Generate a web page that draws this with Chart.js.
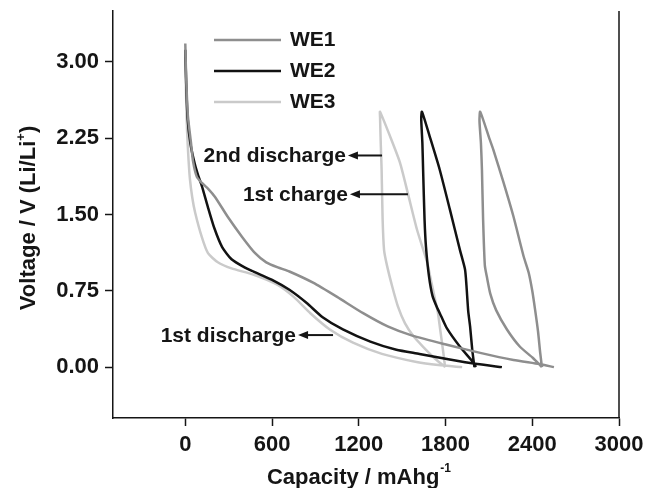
<!DOCTYPE html>
<html>
<head>
<meta charset="utf-8">
<script src="https://cdn.jsdelivr.net/npm/chart.js@4/dist/chart.umd.min.js"></script>
<style>
  html, body { margin: 0; padding: 0; background: #fff; }
  #wrap { width: 646px; height: 488px; }
</style>
</head>
<body>
<div id="wrap"><canvas id="c" width="646" height="488"></canvas></div>
<script>
// Axis ticks
const xTicks = [0, 600, 1200, 1800, 2400, 3000];
const yTicks = [0, 0.75, 1.5, 2.25, 3.0];

// Electrode names and line colours
const seriesNames = ['WE1', 'WE2', 'WE3'];
const seriesColors = ['#8e8e8e', '#121212', '#cacaca'];

// WE1: capacity (mAh/g), voltage (V)
const we1Discharge1 = [[0,3.18],[6,2.85],[18,2.47],[39,2.21],[54,2.02],[80,1.87],[115,1.81],[160,1.75],[207,1.67],[297,1.47],[393,1.28],[483,1.12],[560,1.03],[640,0.98],[720,0.94],[884,0.83],[1050,0.69],[1230,0.53],[1400,0.40],[1570,0.31],[1810,0.22],[2040,0.14],[2270,0.07],[2450,0.03],[2550,0.0]];
const we1Charge1 = [[2467,0.0],[2455,0.14],[2440,0.35],[2420,0.56],[2400,0.75],[2375,0.93],[2340,1.09],[2270,1.48],[2200,1.82],[2130,2.14],[2105,2.24],[2040,2.51]];
const we1Discharge2 = [[2035,2.42],[2045,2.2],[2052,1.94],[2060,1.45],[2072,1.0],[2087,0.88],[2110,0.72],[2150,0.56],[2225,0.37],[2315,0.2],[2405,0.09],[2467,0.0]];

// WE2
const we2Discharge1 = [[0,3.12],[6,2.8],[16,2.45],[35,2.2],[65,2.0],[90,1.88],[115,1.78],[155,1.58],[200,1.37],[255,1.18],[320,1.06],[410,0.98],[470,0.94],[610,0.85],[720,0.76],[840,0.63],[950,0.49],[1090,0.37],[1280,0.25],[1460,0.17],[1620,0.13],[1810,0.08],[2020,0.03],[2190,0.0]];
const we2Charge1 = [[2000,0.0],[1985,0.17],[1970,0.4],[1957,0.55],[1945,0.8],[1935,0.96],[1900,1.15],[1830,1.55],[1760,1.94],[1690,2.27],[1637,2.51]];
const we2Discharge2 = [[1632,2.44],[1640,2.2],[1645,1.94],[1655,1.45],[1665,1.18],[1685,0.9],[1710,0.7],[1740,0.59],[1770,0.5],[1810,0.38],[1900,0.2],[1990,0.05],[2010,0.0]];

// WE3
const we3Discharge1 = [[0,3.05],[5,2.7],[12,2.33],[22,2.05],[32,1.85],[48,1.67],[68,1.52],[114,1.28],[157,1.12],[225,1.03],[320,0.97],[470,0.91],[636,0.81],[750,0.69],[865,0.53],[1000,0.37],[1160,0.24],[1360,0.13],[1600,0.05],[1750,0.02],[1915,0.0]];
const we3Charge1 = [[1797,0.0],[1785,0.14],[1765,0.35],[1748,0.53],[1730,0.65],[1700,0.85],[1673,1.03],[1603,1.35],[1541,1.70],[1485,2.01],[1416,2.27],[1347,2.51]];
const we3Discharge2 = [[1347,2.46],[1352,2.2],[1358,1.94],[1365,1.45],[1375,1.15],[1395,1.0],[1430,0.8],[1470,0.6],[1520,0.43],[1580,0.3],[1645,0.2],[1730,0.08],[1800,0.0]];

// Curve labels with arrows: [text, arrow tip x, arrow tail x, y]
const curveLabels = [
  ['2nd discharge', 1125, 1361, 2.08],
  ['1st charge', 1139, 1540, 1.70],
  ['1st discharge', 780, 1022, 0.315]
];

const FONT = '"Liberation Sans", Arial, Helvetica, sans-serif';
const INK = '#151515';

const toPts = arr => arr.map(p => ({ x: p[0], y: p[1] }));
// first discharge is a separate stroke; charge runs straight into the 2nd discharge
function curve(d1, c1, d2) {
  const last = d1[d1.length - 1];
  return [...toPts(d1), { x: last[0], y: null }, ...toPts(c1), ...toPts(d2)];
}

const curves = [
  curve(we1Discharge1, we1Charge1, we1Discharge2),
  curve(we2Discharge1, we2Charge1, we2Discharge2),
  curve(we3Discharge1, we3Charge1, we3Discharge2)
];

const datasets = curves.map((data, i) => ({
  label: seriesNames[i],
  data,
  borderColor: seriesColors[i],
  borderWidth: 2.5,
  pointRadius: 0,
  tension: 0.2,
  fill: false,
  spanGaps: false,
  order: i
}));

const overlay = {
  id: 'overlay',
  afterDraw(chart) {
    const { ctx, chartArea: a, scales: { x, y } } = chart;
    ctx.save();

    // right edge of the frame
    ctx.strokeStyle = INK;
    ctx.lineWidth = 1.5;
    ctx.beginPath();
    ctx.moveTo(a.right, a.top);
    ctx.lineTo(a.right, a.bottom);
    ctx.stroke();

    // legend
    ctx.font = 'bold 21px ' + FONT;
    ctx.textBaseline = 'middle';
    ctx.textAlign = 'left';
    const legendY = [29, 60, 91];
    seriesNames.forEach((name, i) => {
      const ly = a.top + legendY[i];
      ctx.strokeStyle = seriesColors[i];
      ctx.lineWidth = 2.5;
      ctx.beginPath();
      ctx.moveTo(a.left + 101, ly);
      ctx.lineTo(a.left + 168, ly);
      ctx.stroke();
      ctx.fillStyle = INK;
      ctx.fillText(name, a.left + 177, ly);
    });

    // curve labels with arrows
    curveLabels.forEach(([text, tip, tail, v]) => {
      const px = x.getPixelForValue(tip);
      const pt = x.getPixelForValue(tail);
      const py = y.getPixelForValue(v);
      ctx.fillStyle = INK;
      ctx.textAlign = 'right';
      ctx.textBaseline = 'middle';
      ctx.fillText(text, px - 2, py + 1);
      ctx.strokeStyle = INK;
      ctx.lineWidth = 2;
      ctx.beginPath();
      ctx.moveTo(px + 6, py);
      ctx.lineTo(pt, py);
      ctx.stroke();
      ctx.beginPath();
      ctx.moveTo(px, py);
      ctx.lineTo(px + 10, py - 4);
      ctx.lineTo(px + 10, py + 4);
      ctx.closePath();
      ctx.fill();
    });

    // x axis title with superscript
    ctx.textAlign = 'left';
    ctx.textBaseline = 'alphabetic';
    const xMain = 'Capacity / mAhg';
    const xSup = '-1';
    ctx.font = 'bold 22px ' + FONT;
    const wMain = ctx.measureText(xMain).width;
    ctx.font = 'bold 12px ' + FONT;
    const wSup = ctx.measureText(xSup).width;
    const cx = (a.left + a.right) / 2 - 7;
    const sx = cx - (wMain + wSup + 1) / 2;
    ctx.font = 'bold 22px ' + FONT;
    ctx.fillText(xMain, sx, 484);
    ctx.font = 'bold 12px ' + FONT;
    ctx.fillText(xSup, sx + wMain + 1, 472);

    // y axis title with superscript, rotated
    ctx.translate(35, 218);
    ctx.rotate(-Math.PI / 2);
    const yParts = [['Voltage / V (Li/Li', 22, 0], ['+', 13, -10], [')', 22, 0]];
    let total = 0;
    yParts.forEach(p => { ctx.font = 'bold ' + p[1] + 'px ' + FONT; p.push(ctx.measureText(p[0]).width); total += p[3]; });
    let tx = -total / 2;
    yParts.forEach(p => {
      ctx.font = 'bold ' + p[1] + 'px ' + FONT;
      ctx.fillText(p[0], tx, p[2]);
      tx += p[3];
    });

    ctx.restore();
  }
};

const tickFont = { family: FONT, size: 22, weight: 'bold' };

new Chart(document.getElementById('c'), {
  type: 'line',
  data: { datasets },
  options: {
    responsive: false,
    animation: false,
    devicePixelRatio: 1,
    layout: { padding: { top: 11, right: 27, left: 0, bottom: 0 } },
    plugins: { legend: { display: false }, tooltip: { enabled: false } },
    scales: {
      x: {
        type: 'linear',
        min: -500,
        max: 3000,
        afterBuildTicks: s => { s.ticks = xTicks.map(v => ({ value: v })); },
        afterFit: s => { s.height = 70; s.paddingLeft = 0; s.paddingRight = 0; },
        ticks: { font: tickFont, color: INK, padding: 6, maxRotation: 0, callback: v => String(v) },
        grid: { drawOnChartArea: false, drawTicks: true, tickLength: 8, tickWidth: 1.5, tickColor: INK },
        border: { display: true, color: INK, width: 1.5 }
      },
      y: {
        type: 'linear',
        min: -0.5,
        max: 3.5,
        afterBuildTicks: s => { s.ticks = yTicks.map(v => ({ value: v })); },
        afterFit: s => { s.width = 113; s.paddingTop = 0; s.paddingBottom = 0; },
        ticks: { font: tickFont, color: INK, padding: 6, callback: v => Number(v).toFixed(2) },
        grid: { drawOnChartArea: false, drawTicks: true, tickLength: 8, tickWidth: 1.5, tickColor: INK },
        border: { display: true, color: INK, width: 1.5 }
      }
    }
  },
  plugins: [overlay]
});
</script>
</body>
</html>
